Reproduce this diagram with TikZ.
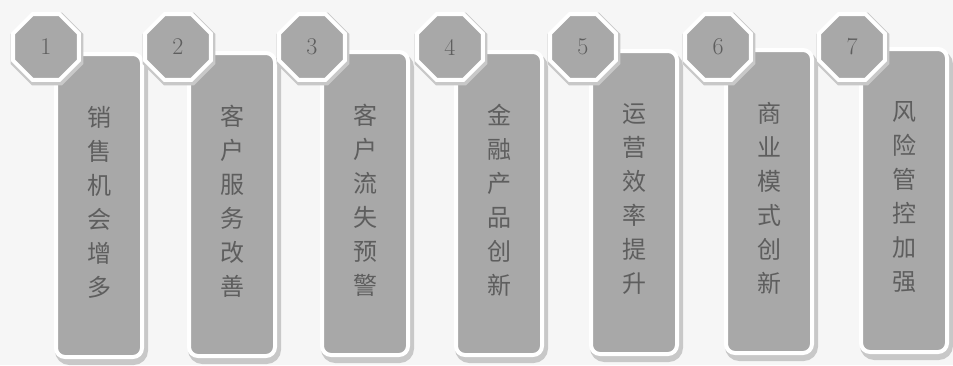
\documentclass[tikz,border=0pt]{standalone}
\usepackage{fontspec}
\newfontfamily\cjk{Noto Sans CJK SC}
\usetikzlibrary{shapes.geometric}
\definecolor{bg}{HTML}{F6F6F6}
\definecolor{boxfill}{HTML}{A8A8A8}
\definecolor{txt}{HTML}{5E5E5E}
\definecolor{shade}{HTML}{C8C8C8}
\tikzset{
  x=1pt,y=-1pt,
  barbox/.style={draw=white,line width=4pt,fill=boxfill,rounded corners=9pt,
    minimum width=86pt,minimum height=303pt,anchor=north west,inner sep=0pt},
  barshadow/.style={draw=shade,line width=7pt,rounded corners=11pt,
    minimum width=86pt,minimum height=303pt,anchor=north west,inner sep=0pt},
  octo/.style={regular polygon,regular polygon sides=8,draw=white,line width=4pt,
    fill=boxfill,minimum size=71pt,inner sep=0pt,text=txt,font=\fontsize{24}{24}\selectfont},
  octoshadow/.style={regular polygon,regular polygon sides=8,draw=shade,line width=7pt,
    minimum size=71pt,inner sep=0pt},
  vtext/.style={text=txt,font=\cjk\fontsize{24}{34}\selectfont,align=center,anchor=north,inner sep=0pt}
}
\begin{document}
\begin{tikzpicture}
\fill[bg] (0,0) rectangle (953,365);
\useasboundingbox (0,0) rectangle (953,365);
\foreach \i/\rx/\ox/\ty/\lab in {1/54/46/52/{销\\售\\机\\会\\增\\多},
                                 2/187/178/51/{客\\户\\服\\务\\改\\善},
                                 3/320/312/50/{客\\户\\流\\失\\预\\警},
                                 4/454/450/50/{金\\融\\产\\品\\创\\新},
                                 5/589/583/49/{运\\营\\效\\率\\提\\升},
                                 6/724/718/48/{商\\业\\模\\式\\创\\新},
                                 7/859/852/47/{风\\险\\管\\控\\加\\强}}{
  \node[barshadow] (s\i) at (\rx+1,\ty+3) {};
  \node[barbox] (b\i) at (\rx,\ty) {};
  \node[vtext] (t\i) at ([yshift=-54pt]b\i.north) {\lab};
  \node[octoshadow] (os\i) at (\ox+1,49) {};
  \node[octo] (o\i) at (\ox,47) {\i};
}
\end{tikzpicture}
\end{document}
